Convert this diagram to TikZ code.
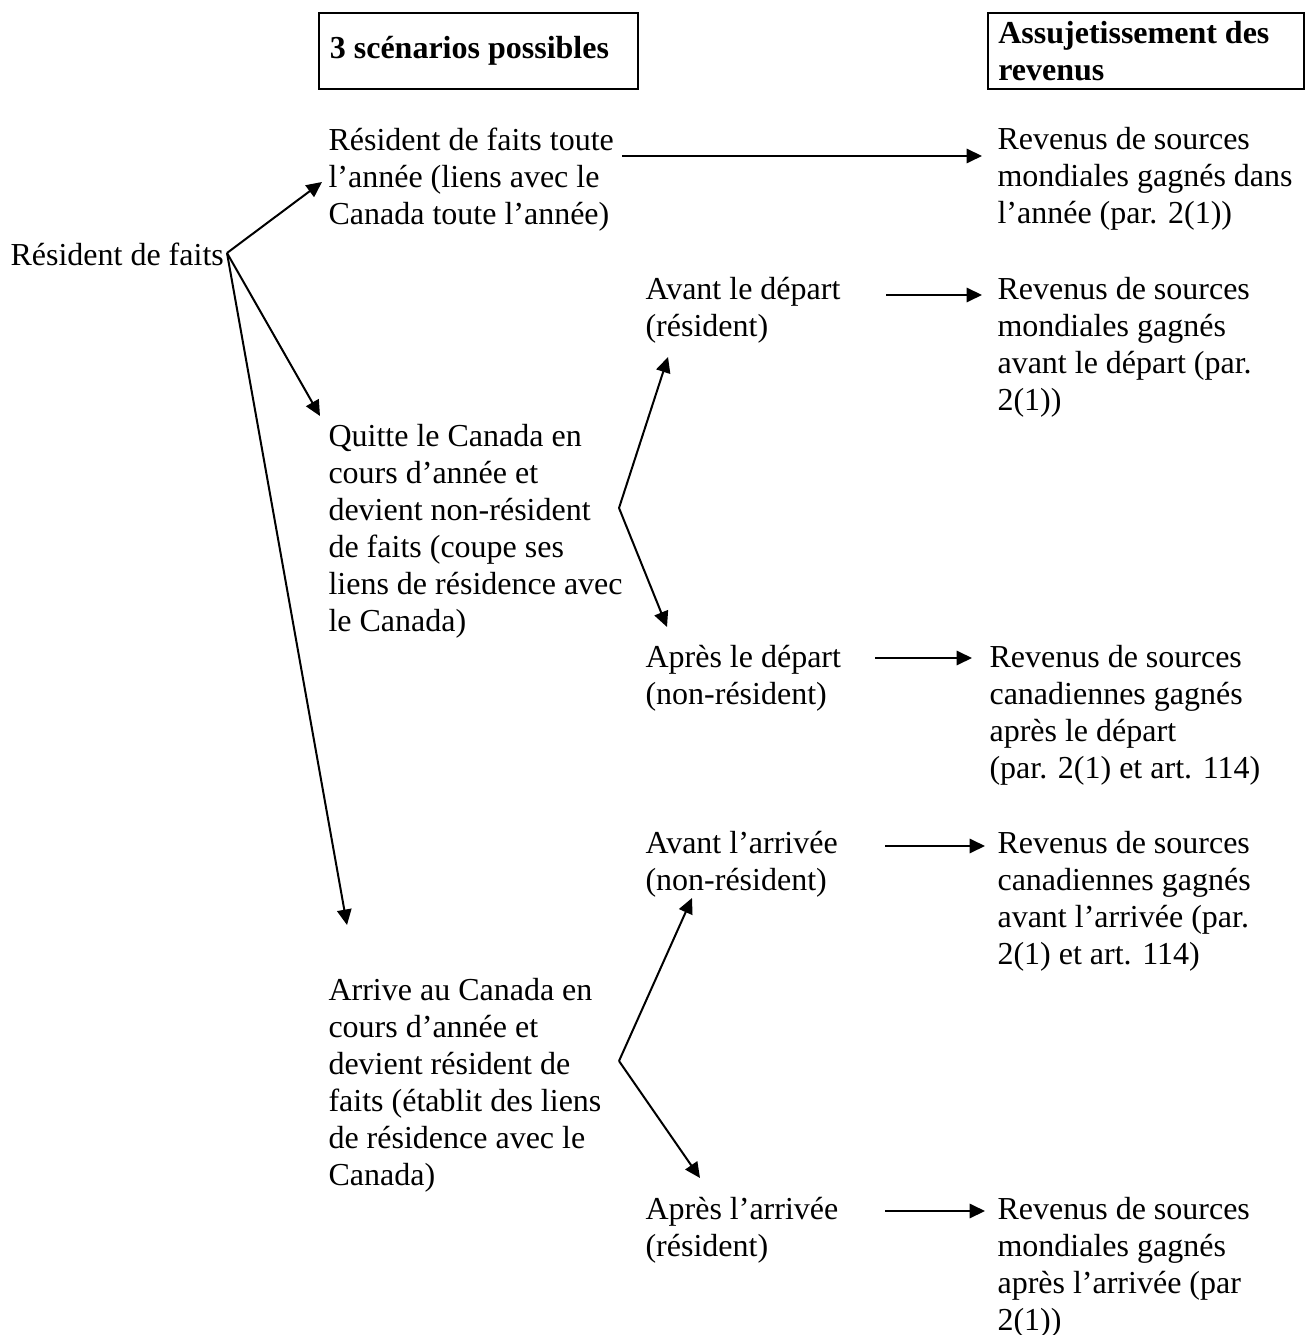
\documentclass[tikz,border=0pt]{standalone}
\usepackage{fontspec}
\setmainfont{Liberation Serif}
\usetikzlibrary{arrows.meta,calc}

\begin{document}
\begin{tikzpicture}[x=0.375pt,y=-0.375pt,
  txt/.style={anchor=north west,inner sep=0pt,align=left,
    font=\fontsize{12}{13.875}\selectfont,execute at begin node=\strut},
  titlebox/.style={draw,line width=0.9pt,anchor=north west,inner xsep=4pt,
    inner ysep=0pt,text width=#1,minimum height=28.5pt,align=flush left,
    font=\fontsize{12}{13.875}\selectfont\bfseries},
  link/.style={line width=0.75pt,-{Triangle[length=5.8pt,width=5.4pt]}}]

\useasboundingbox (0,0) rectangle (1308,1335);

% column headers
\node[titlebox=111.6pt] (h1) at (318,12) {3 scénarios possibles};
\node[titlebox=110.9pt,inner xsep=3.8pt] (h2) at (987,12) {Assujetissement des\\revenus};

% starting point
\node[txt] (src) at (10,239) {Résident de faits};

% the three scenarios
\node[txt] (s1) at (328,127) {Résident de faits toute\\l’année (liens avec le\\Canada toute l’année)};
\node[txt] (q)  at (328,424) {Quitte le Canada en\\cours d’année et\\devient non-résident\\de faits (coupe ses\\liens de résidence avec\\le Canada)};
\node[txt] (arr) at (328,978) {Arrive au Canada en\\cours d’année et\\devient résident de\\faits (établit des liens\\de résidence avec le\\Canada)};

% periods
\node[txt] (ad) at (645,277)  {Avant le départ\\(résident)};
\node[txt] (pd) at (645,645)  {Après le départ\\(non-résident)};
\node[txt] (aa) at (645,831)  {Avant l’arrivée\\(non-résident)};
\node[txt] (pa) at (645,1197) {Après l’arrivée\\(résident)};

% taxable income
\node[txt] (r1) at (997,127)  {Revenus de sources\\mondiales gagnés dans\\l’année (par. 2(1))};
\node[txt] (r2) at (997,277)  {Revenus de sources\\mondiales gagnés\\avant le départ (par.\\2(1))};
\node[txt] (r3) at (989,645)  {Revenus de sources\\canadiennes gagnés\\après le départ\\(par. 2(1) et art. 114)};
\node[txt] (r4) at (997,831)  {Revenus de sources\\canadiennes gagnés\\avant l’arrivée (par.\\2(1) et art. 114)};
\node[txt] (r5) at (997,1197) {Revenus de sources\\mondiales gagnés\\après l’arrivée (par\\2(1))};

% fan-out from the starting point
\coordinate (o) at ($(src.north west)+(217,14)$);
\draw[link] (o) -- ($(s1.north west)+(-6,55)$);
\draw[link] (o) -- ($(q.north west)+(-8,-8)$);
\draw[link] (o) -- ($(arr.north west)+(19,-53)$);

% scenario to income
\draw[link] ($(s1.north west)+(294,29)$) -- ($(r1.north west)+(-15,29)$);
\draw[link] ($(ad.north west)+(241,18)$) -- ($(r2.north west)+(-15,18)$);
\draw[link] ($(pd.north west)+(230,13)$) -- ($(r3.north west)+(-17,13)$);
\draw[link] ($(aa.north west)+(240,15)$) -- ($(r4.north west)+(-12,15)$);
\draw[link] ($(pa.north west)+(240,14)$) -- ($(r5.north west)+(-12,14)$);

% splits before / after
\coordinate (qf) at ($(q.north west)+(291,84)$);
\draw[link] (qf) -- ($(ad.north west)+(23,80)$);
\draw[link] (qf) -- ($(pd.north west)+(22,-18)$);
\coordinate (af) at ($(arr.north west)+(291,83)$);
\draw[link] (af) -- ($(aa.north west)+(47,67)$);
\draw[link] (af) -- ($(pa.north west)+(55,-19)$);
\end{tikzpicture}
\end{document}
